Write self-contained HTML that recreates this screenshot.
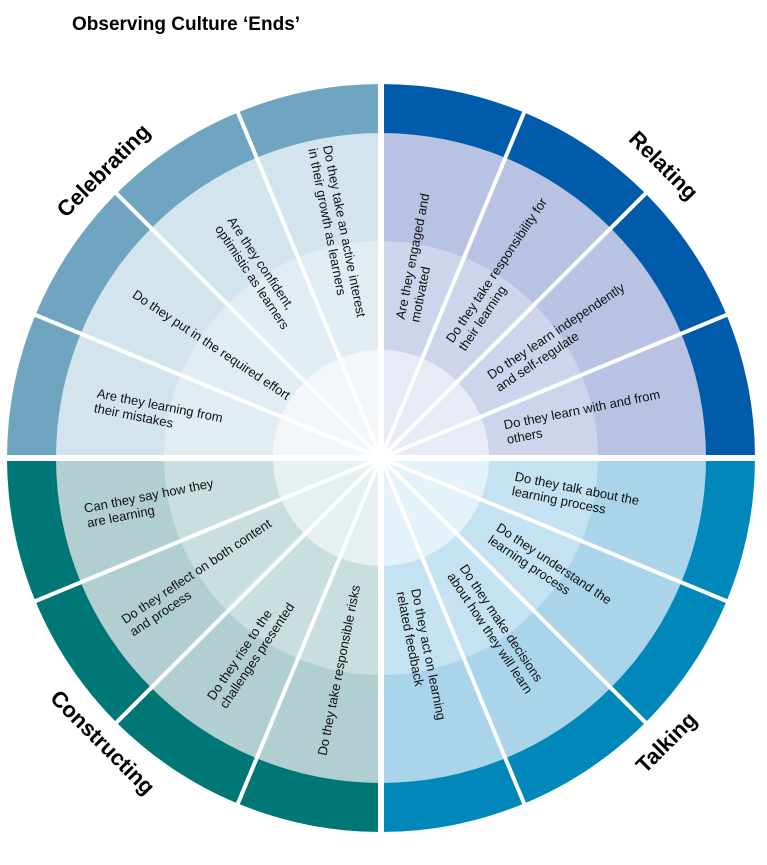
<!DOCTYPE html>
<html><head><meta charset="utf-8"><style>
html,body{margin:0;padding:0;background:#fff;}
svg{display:block;font-family:"Liberation Sans",Arial,sans-serif;}
.t{font-size:13px;fill:#111;text-anchor:start;}
.l{font-size:22px;font-weight:bold;fill:#000;text-anchor:middle;}
</style></head><body>
<svg width="767" height="865" viewBox="0 0 767 865" xmlns="http://www.w3.org/2000/svg">
<defs>
<clipPath id="q1"><rect x="381" y="0" width="400" height="458"/></clipPath>
<clipPath id="q2"><rect x="381" y="458" width="400" height="420"/></clipPath>
<clipPath id="q3"><rect x="0" y="458" width="381" height="420"/></clipPath>
<clipPath id="q4"><rect x="0" y="0" width="381" height="458"/></clipPath>
</defs>
<text x="72" y="30" style="font-size:19px;font-weight:bold">Observing Culture ‘Ends’</text>
<g clip-path="url(#q1)">
<circle cx="381" cy="458" r="374" fill="#005BAA"/><circle cx="381" cy="458" r="325" fill="#B8C2E3"/>
<circle cx="381" cy="458" r="217" fill="#CDD4EC"/><circle cx="381" cy="458" r="108" fill="#E8EBF6"/></g>
<g clip-path="url(#q2)">
<circle cx="381" cy="458" r="374" fill="#0088BB"/><circle cx="381" cy="458" r="325" fill="#A9D4EA"/>
<circle cx="381" cy="458" r="217" fill="#C4E2F1"/><circle cx="381" cy="458" r="108" fill="#E4F2F9"/></g>
<g clip-path="url(#q3)">
<circle cx="381" cy="458" r="374" fill="#007777"/><circle cx="381" cy="458" r="325" fill="#B1CFD1"/>
<circle cx="381" cy="458" r="217" fill="#C9DEDF"/><circle cx="381" cy="458" r="108" fill="#E6F0F0"/></g>
<g clip-path="url(#q4)">
<circle cx="381" cy="458" r="374" fill="#6FA5C0"/><circle cx="381" cy="458" r="325" fill="#D3E4EE"/>
<circle cx="381" cy="458" r="217" fill="#E1EDF3"/><circle cx="381" cy="458" r="108" fill="#F3F7FA"/></g>
<g stroke="#fff" stroke-width="4">
<line x1="381" y1="458" x2="526.4" y2="106.9"/><line x1="381" y1="458" x2="649.7" y2="189.3"/>
<line x1="381" y1="458" x2="732.1" y2="312.6"/><line x1="381" y1="458" x2="732.1" y2="603.4"/>
<line x1="381" y1="458" x2="649.7" y2="726.7"/><line x1="381" y1="458" x2="526.4" y2="809.1"/>
<line x1="381" y1="458" x2="235.6" y2="809.1"/><line x1="381" y1="458" x2="112.3" y2="726.7"/>
<line x1="381" y1="458" x2="29.9" y2="603.4"/><line x1="381" y1="458" x2="29.9" y2="312.6"/>
<line x1="381" y1="458" x2="112.3" y2="189.3"/><line x1="381" y1="458" x2="235.6" y2="106.9"/>
</g>
<g stroke="#fff" stroke-width="6">
<line x1="381" y1="70" x2="381" y2="850"/><line x1="0" y1="458" x2="767" y2="458"/>
</g>
<g class="t">
<text transform="rotate(-78.75 381 458)" x="521" y="458"><tspan x="521" dy="-0.3em">Are they engaged and</tspan><tspan x="521" dy="1.15em">motivated</tspan></text>
<text transform="rotate(-56.25 381 458)" x="516" y="458"><tspan x="516" dy="-0.3em">Do they take responsibility for</tspan><tspan x="516" dy="1.15em">their learning</tspan></text>
<text transform="rotate(-33.75 381 458)" x="516" y="458"><tspan x="516" dy="-0.3em">Do they learn independently</tspan><tspan x="516" dy="1.15em">and self-regulate</tspan></text>
<text transform="rotate(-11.25 381 458)" x="508" y="458"><tspan x="508" dy="-0.3em">Do they learn with and from</tspan><tspan x="508" dy="1.15em">others</tspan></text>
<text transform="rotate(11.25 381 458)" x="516" y="458"><tspan x="516" dy="-0.3em">Do they talk about the</tspan><tspan x="516" dy="1.15em">learning process</tspan></text>
<text transform="rotate(33.75 381 458)" x="516" y="458"><tspan x="516" dy="-0.3em">Do they understand the</tspan><tspan x="516" dy="1.15em">learning process</tspan></text>
<text transform="rotate(56.25 381 458)" x="516" y="458"><tspan x="516" dy="-0.3em">Do they make decisions</tspan><tspan x="516" dy="1.15em">about how they will learn</tspan></text>
<text transform="rotate(78.75 381 458)" x="516" y="458"><tspan x="516" dy="-0.3em">Do they act on learning</tspan><tspan x="516" dy="1.15em">related feedback</tspan></text>
<text transform="rotate(-78.75 381 458)" x="78" y="458"><tspan x="78" dy="0.35em">Do they take responsible risks</tspan></text>
<text transform="rotate(-56.25 381 458)" x="86" y="458"><tspan x="86" dy="-0.3em">Do they rise to the</tspan><tspan x="86" dy="1.15em">challenges presented</tspan></text>
<text transform="rotate(-33.75 381 458)" x="76" y="458"><tspan x="76" dy="-0.3em">Do they reflect on both content</tspan><tspan x="76" dy="1.15em">and process</tspan></text>
<text transform="rotate(-11.25 381 458)" x="80" y="458"><tspan x="80" dy="-0.3em">Can they say how they</tspan><tspan x="80" dy="1.15em">are learning</tspan></text>
<text transform="rotate(11.25 381 458)" x="90" y="458"><tspan x="90" dy="-0.3em">Are they learning from</tspan><tspan x="90" dy="1.15em">their mistakes</tspan></text>
<text transform="rotate(33.75 381 458)" x="84" y="458"><tspan x="84" dy="0.35em">Do they put in the required effort</tspan></text>
<text transform="rotate(56.25 381 458)" x="98" y="458"><tspan x="98" dy="-0.3em">Are they confident,</tspan><tspan x="98" dy="1.15em">optimistic as learners</tspan></text>
<text transform="rotate(78.75 381 458)" x="64" y="458"><tspan x="64" dy="-0.3em">Do they take an active interest</tspan><tspan x="64" dy="1.15em">in their growth as learners</tspan></text>
</g>
<text class="l" transform="translate(664,165) rotate(45)" y="8">Relating</text>
<text class="l" transform="translate(103,170) rotate(-45)" y="8">Celebrating</text>
<text class="l" transform="translate(666,742) rotate(-45)" y="8">Talking</text>
<text class="l" transform="translate(103,742) rotate(45)" y="8">Constructing</text>
</svg>
</body></html>
